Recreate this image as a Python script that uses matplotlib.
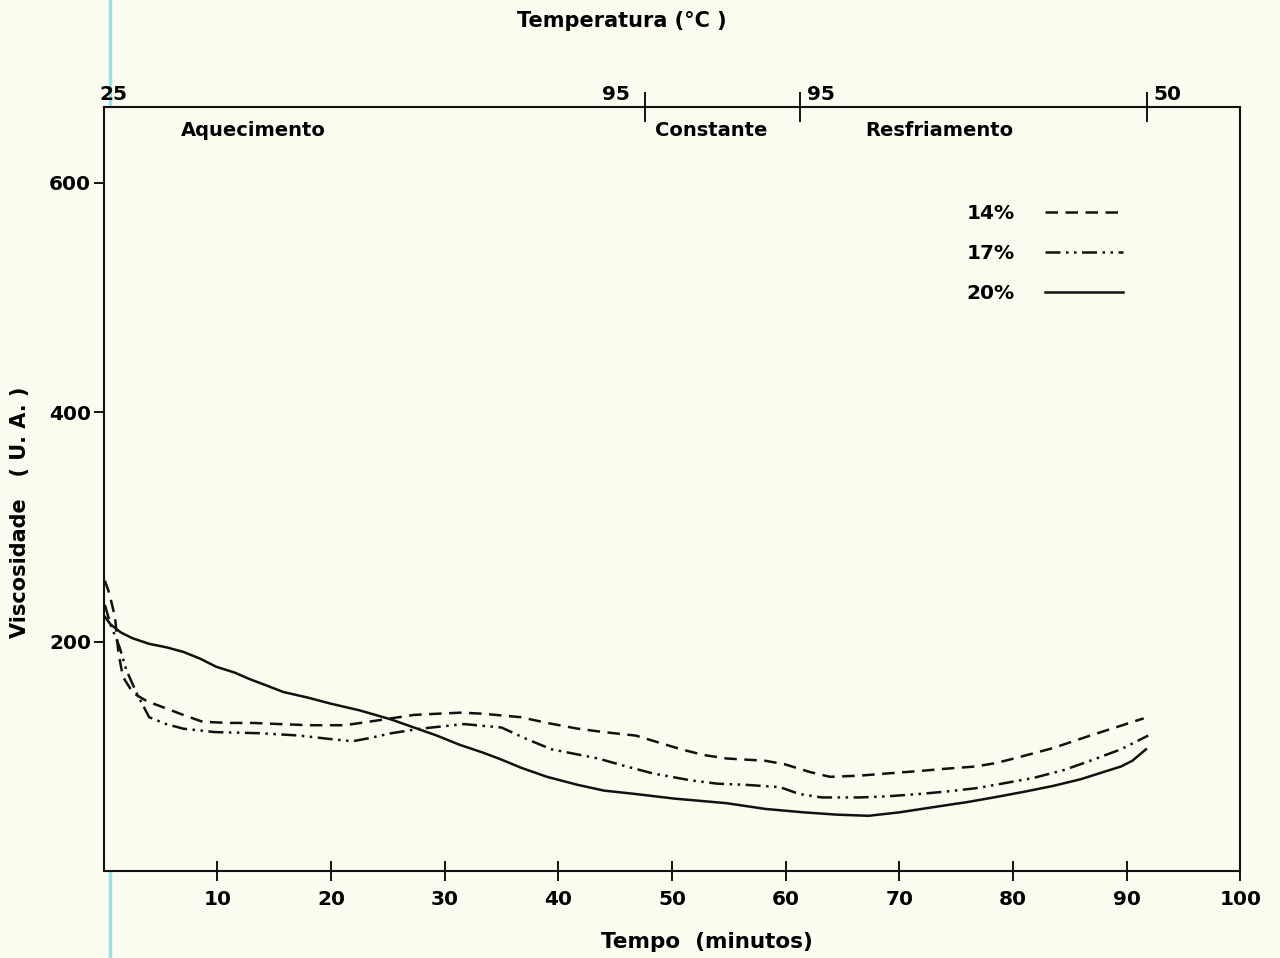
import numpy as np
import matplotlib.pyplot as plt
from matplotlib.lines import Line2D

# curvas de viscosidade (U.A.) x tempo (min)
t14 = [0.1, 0.5, 1.0, 1.3, 1.7, 2.6, 3.8, 5.4, 7, 8.7, 11, 13.1, 15.5, 18.1, 21.2, 23.3,
       25.3, 27.3, 29.3, 31.5, 33.4, 36.7, 39, 41.7, 44, 46.8, 48.8, 50.8, 52.8, 54.8,
       58.2, 59.9, 61.2, 62.2, 63.9, 66.5, 69, 71.7, 74, 76.7, 78.5, 80.1, 83.5, 86.8,
       89, 91.5]
v14 = [253, 242, 221, 190, 169, 155, 148, 142, 136, 130, 129, 129, 128, 127, 127, 130,
       133, 136, 137, 138, 137, 134, 129, 124, 121, 118, 112, 106, 101, 98,
       96, 93, 89, 86, 82, 83, 85, 87, 89, 91, 94, 98, 107, 118,
       125, 133]

t17 = [0.1, 0.6, 1.4, 2.0, 2.9, 4, 5.5, 7, 9.8, 13.8, 17.2, 19.9, 21.9, 23.5, 25.3, 27.9,
       31.7, 35, 37.2, 39.4, 43.5, 46, 48.3, 51.6, 54, 56.5, 59.5, 61.2, 63.2, 66.5,
       69, 71.7, 74, 76.7, 79, 81.8, 84.5, 86.8, 89.5, 91.9]
v17 = [232, 215, 195, 175, 155, 134, 128, 124, 121, 120, 118, 115, 113, 116, 120, 124,
       128, 125, 115, 106, 98, 91, 85, 79, 76, 75, 73, 67, 64, 64,
       65, 67, 69, 72, 76, 81, 88, 96, 106, 118]

t20 = [0, 0.6, 1.5, 2.5, 4, 5.5, 7, 8.5, 9.9, 11.5, 12.9, 14.5, 15.8, 18, 19.9, 22.5,
       25.3, 27.3, 29.3, 31.3, 33.4, 35, 36.7, 39, 41.7, 44, 46.8, 50.2, 54.8, 58.2,
       61.6, 64.5, 67.3, 70, 73.3, 76, 78.3, 81, 83.5, 86, 87.9, 89.5, 90.5, 91.7]
v20 = [223, 215, 208, 203, 198, 195, 191, 185, 178, 173, 167, 161, 156, 151, 146, 140,
       132, 125, 118, 110, 103, 97, 90, 82, 75, 70, 67, 63, 59, 54,
       51, 49, 48, 51, 56, 60, 64, 69, 74, 80, 86, 91, 96, 106]

# escala de temperatura no eixo superior
t_temp = [0, 47.6, 61.3, 91.8]
temp_lbl = ['25', '95', '95', '50']
fases = ['Aquecimento', 'Constante', 'Resfriamento']
fases_x = [6.8, 48.5, 67.0]

plt.rcParams['font.family'] = ['DejaVu Sans']
plt.rcParams['font.weight'] = 'bold'
bg = '#fcfbef'

fig = plt.figure(figsize=(12.8, 9.58), dpi=100, facecolor=bg)
ax = fig.add_axes([0.081, 0.091, 0.888, 0.797], facecolor=bg)

ax.plot(t14, v14, color='#111', lw=1.8, dashes=(5, 3), label='14%')
ax.plot(t17, v17, color='#111', lw=1.8, dashes=(6, 2.2, 1, 2.2, 1, 2.2), label='17%')
ax.plot(t20, v20, color='#111', lw=1.8, label='20%')

ax.set_xlim(0, 100)
ax.set_ylim(0, 666)
ax.set_xticks(range(10, 101, 10))
ax.set_yticks([200, 400, 600])
ax.tick_params(axis='x', direction='inout', length=14, width=1.3, labelsize=14.5, pad=7)
ax.tick_params(axis='y', direction='out', length=7, width=1.3, labelsize=14.5, pad=2)
for s in ax.spines.values():
    s.set_linewidth(1.5)
    s.set_color('#111')

# marcas de temperatura
top = ax.twiny()
top.set_xlim(ax.get_xlim())
top.set_xticks(t_temp[1:])
top.set_xticklabels([])
top.tick_params(axis='x', direction='inout', length=22, width=1.3)
for s in top.spines.values():
    s.set_visible(False)

offs = [-0.4, -1.3, 0.6, 0.6]
has = ['left', 'right', 'left', 'left']
for x, lb, o, h in zip(t_temp, temp_lbl, offs, has):
    ax.text(x + o, 1.004, lb, transform=ax.get_xaxis_transform(), ha=h, va='bottom',
            fontsize=14.5)
for x, lb in zip(fases_x, fases):
    ax.text(x, 0.97, lb, transform=ax.get_xaxis_transform(), ha='left', va='center',
            fontsize=14)

leg = ax.legend(loc='upper right', bbox_to_anchor=(0.913, 0.897), frameon=False,
                markerfirst=False, handlelength=3.9, handletextpad=1.5,
                labelspacing=1.05, fontsize=14.5)

fig.text(0.486, 0.978, 'Temperatura (°C )', ha='center', va='center', fontsize=15)
fig.text(0.552, 0.017, 'Tempo  (minutos)', ha='center', va='center', fontsize=15.5)
fig.text(0.016, 0.465, 'Viscosidade   ( U. A. )', ha='center', va='center',
         rotation=90, fontsize=15)

# risco azul da digitalizacao
fig.add_artist(Line2D([0.086, 0.086], [0, 1], transform=fig.transFigure,
                      color='#7fe0e8', lw=2.5, alpha=0.8, zorder=0))

fig.savefig('out.png', dpi=100, facecolor=bg)
